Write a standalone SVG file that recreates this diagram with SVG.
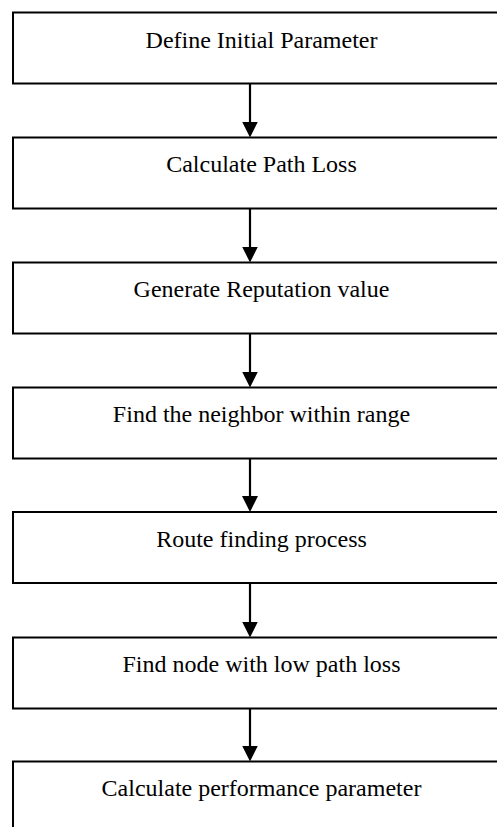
<svg xmlns="http://www.w3.org/2000/svg" width="497" height="827" viewBox="0 0 497 827">
  <style>
    .box { fill: #ffffff; stroke: #000000; stroke-width: 2; }
    .lbl { font-family: "Liberation Serif", "Times New Roman", serif; font-size: 24px; fill: #000000; text-anchor: middle; }
    .conn { stroke: #000000; stroke-width: 2.2; fill: none; marker-end: url(#arrow); }
  </style>
  <defs>
    <marker id="arrow" markerUnits="userSpaceOnUse" markerWidth="16" markerHeight="16" refX="8" refY="8" orient="auto">
      <path d="M0,0 L16,8 L0,16 Z" fill="#000000"/>
    </marker>
  </defs>
  <rect x="0" y="0" width="497" height="827" fill="#ffffff"/>

  <g id="n1">
    <rect class="box" x="13" y="12.5" width="500" height="71"/>
    <text class="lbl" x="261.5" y="47.5">Define Initial Parameter</text>
  </g>
  <g id="n2">
    <rect class="box" x="13" y="137.5" width="500" height="71"/>
    <text class="lbl" x="261.5" y="172">Calculate Path Loss</text>
  </g>
  <g id="n3">
    <rect class="box" x="13" y="262.5" width="500" height="71"/>
    <text class="lbl" x="261.5" y="297">Generate Reputation value</text>
  </g>
  <g id="n4">
    <rect class="box" x="13" y="387.5" width="500" height="71"/>
    <text class="lbl" x="261.5" y="422">Find the neighbor within range</text>
  </g>
  <g id="n5">
    <rect class="box" x="13" y="512" width="500" height="71"/>
    <text class="lbl" x="261.5" y="546.5">Route finding process</text>
  </g>
  <g id="n6">
    <rect class="box" x="13" y="637.5" width="500" height="71"/>
    <text class="lbl" x="261.5" y="672">Find node with low path loss</text>
  </g>
  <g id="n7">
    <rect class="box" x="13" y="761.5" width="500" height="71"/>
    <text class="lbl" x="261.5" y="796">Calculate performance parameter</text>
  </g>

  <g id="connectors">
    <line class="conn" x1="250" y1="84" x2="250" y2="129.5"/>
    <line class="conn" x1="250" y1="209" x2="250" y2="254.5"/>
    <line class="conn" x1="250" y1="334" x2="250" y2="379.5"/>
    <line class="conn" x1="250" y1="459" x2="250" y2="504"/>
    <line class="conn" x1="250" y1="583.5" x2="250" y2="629.5"/>
    <line class="conn" x1="250" y1="709" x2="250" y2="753.5"/>
  </g>
</svg>
